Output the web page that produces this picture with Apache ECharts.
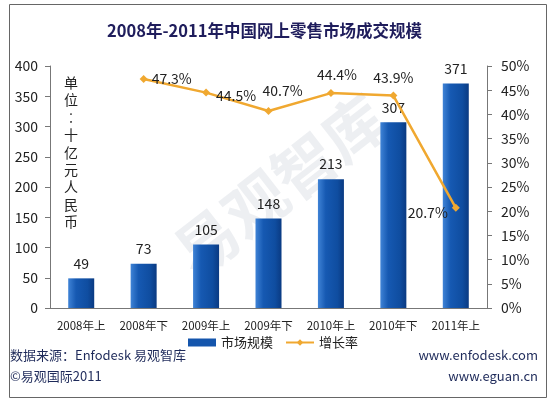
<!DOCTYPE html>
<html>
<head>
<meta charset="utf-8">
<script src="https://cdn.jsdelivr.net/npm/echarts@6/dist/echarts.min.js"></script>
<style>
  html, body { margin: 0; padding: 0; background: #fff; }
  #chart { width: 550px; height: 398px; }
</style>
</head>
<body>
<div id="chart"></div>
<script>
  const categories = ['2008年上', '2008年下', '2009年上', '2009年下', '2010年上', '2010年下', '2011年上']
  const marketSize = [49, 73, 105, 148, 213, 307, 371]
  const growthRate = [null, 47.3, 44.5, 40.7, 44.4, 43.9, 20.7]
  const leftTicks = { min: 0, max: 400, interval: 50 }
  const rightTicks = { min: 0, max: 50, interval: 5 }

  // label placement per point (style only)
  const rateLabel = [
    null,
    { position: 'right', distance: 4 },
    { position: 'right', distance: 6, offset: [0, 3] },
    { position: 'top', offset: [14, -4] },
    { position: 'top', offset: [6, -2] },
    { position: 'top', offset: [0, -2] },
    { position: 'left', distance: 4, offset: [0, 5] }
  ]

  const font = '"Noto Sans CJK SC", "Noto Sans", sans-serif'
  const txt = '#222'

  const chart = echarts.init(document.getElementById('chart'))
  const option = {
    backgroundColor: '#fff',
    textStyle: { fontFamily: font },
    animation: false,
    title: {
      text: '2008年-2011年中国网上零售市场成交规模',
      left: 102, top: 17,
      textStyle: { fontSize: 16.5, fontWeight: 'bold', color: '#1f1d5c', fontFamily: font }
    },
    legend: {
      bottom: 44, left: 183,
      itemGap: 12,
      textStyle: { fontSize: 13, color: '#222' },
      data: [
        { name: '市场规模', icon: 'rect', itemStyle: { color: '#1455ac' } },
        { name: '增长率' }
      ],
      itemWidth: 28, itemHeight: 8
    },
    grid: { left: 50, right: 63, top: 66, bottom: 90 },
    xAxis: {
      type: 'category',
      data: categories,
      axisLine: { lineStyle: { color: '#777' } },
      axisTick: { inside: true, length: 5, lineStyle: { color: '#777' } },
      axisLabel: { fontSize: 11.5, color: txt, margin: 12, interval: 0 }
    },
    yAxis: [
      {
        type: 'value', ...leftTicks,
        splitLine: { show: false },
        axisLine: { show: true, lineStyle: { color: '#777' } },
        axisTick: { show: true, length: 5, lineStyle: { color: '#777' } },
        axisLabel: { fontSize: 14, color: txt, margin: 12 }
      },
      {
        type: 'value', ...rightTicks,
        splitLine: { show: false },
        axisLine: { show: true, lineStyle: { color: '#777' } },
        axisTick: { show: true, length: 5, lineStyle: { color: '#777' } },
        axisLabel: { fontSize: 14, color: txt, margin: 14, formatter: '{value}%' }
      }
    ],
    series: [
      {
        name: '市场规模',
        type: 'bar',
        barWidth: 26,
        data: marketSize,
        itemStyle: {
          color: new echarts.graphic.LinearGradient(0, 0, 1, 0, [
            { offset: 0, color: '#3f83d6' },
            { offset: 0.3, color: '#1659b2' },
            { offset: 0.75, color: '#0f4da0' },
            { offset: 1, color: '#0a3a82' }
          ])
        },
        label: { show: true, position: 'top', distance: 8, fontSize: 14, color: txt }
      },
      {
        name: '增长率',
        type: 'line',
        yAxisIndex: 1,
        data: growthRate.map((v, i) => v == null ? null : {
          value: v,
          label: rateLabel[i]
        }),
        color: '#f0a830',
        lineStyle: { width: 2.5, color: '#f0a830' },
        symbol: 'diamond',
        symbolSize: 8,
        itemStyle: { color: '#f0a830' },
        label: {
          show: true, fontSize: 14, color: txt,
          formatter: p => p.value.toFixed(1) + '%'
        },
        z: 5
      }
    ],
    graphic: [
      {
        type: 'rect', left: 7, top: 2,
        shape: { width: 537, height: 393 },
        style: { fill: 'none', stroke: '#666', lineWidth: 1 }, silent: true
      },
      {
        type: 'text', x: 280, y: 185, rotation: Math.PI * 0.21, z: 0,
        style: {
          text: '易观智库', fontSize: 62, fontWeight: 'bold', fontFamily: font,
          fill: 'rgba(190,198,210,0.28)', textAlign: 'center', textVerticalAlign: 'middle'
        }, silent: true
      },
      {
        type: 'text', x: 71, y: 74,
        style: {
          text: '单\n位\n︰\n十\n亿\n元\n人\n民\n币', fontSize: 14, lineHeight: 17.4,
          fontFamily: font, fill: txt, textAlign: 'center'
        }
      },
      {
        type: 'text', left: 10, top: 349,
        style: { text: '数据来源：Enfodesk 易观智库', fontSize: 13, fontFamily: font, fill: '#1e2a5a' }
      },
      {
        type: 'text', left: 10, top: 370,
        style: { text: '©易观国际2011', fontSize: 13, fontFamily: font, fill: '#1e2a5a' }
      },
      {
        type: 'text', right: 12, top: 349,
        style: { text: 'www.enfodesk.com', fontSize: 13, fontFamily: font, fill: '#1e2a5a' }
      },
      {
        type: 'text', right: 12, top: 370,
        style: { text: 'www.eguan.cn', fontSize: 13, fontFamily: font, fill: '#1e2a5a' }
      }
    ]
  }
  chart.setOption(option)
</script>
</body>
</html>
